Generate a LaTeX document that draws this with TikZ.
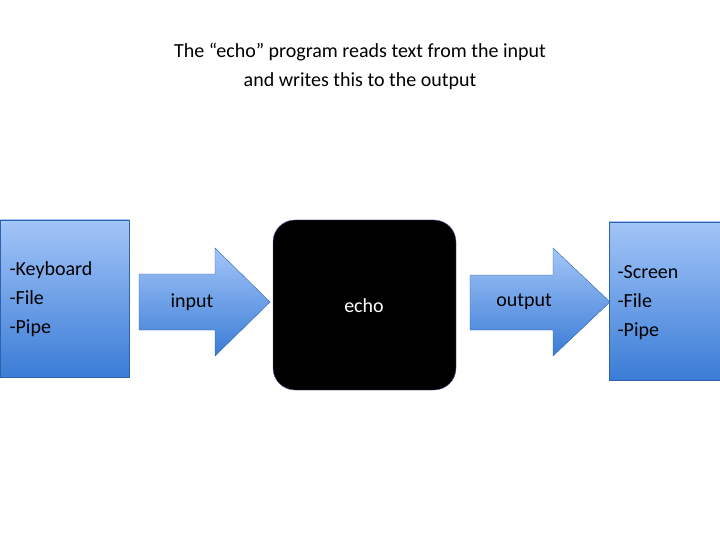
\documentclass[tikz,border=0pt]{standalone}
\usepackage{fontspec}
\setmainfont{Carlito}
\begin{document}
\begin{tikzpicture}[x=1pt,y=-1pt,
  blu/.style={top color=blue!10!cyan!30!blue!40!white, bottom color=blue!70!cyan!60!black!90,draw=blue!50!gray},
  txt/.style={font=\fontsize{20}{29}\selectfont}]
\colorlet{lb}{white}
\definecolor{btop}{HTML}{A3C5F8}
\definecolor{bbot}{HTML}{3A7CD6}
\tikzset{blu/.style={top color=btop,bottom color=bbot,draw=bbot!80!black}}
\useasboundingbox (0,0) rectangle (720,540);
\node[txt,align=center] (title) at (360,66) {The “echo” program reads text from the input\\and writes this to the output};
\draw[blu] (0,220) rectangle (129,377);
\node[txt,align=left,anchor=west] (src) at (6,299) {-Keyboard\\-File\\-Pipe};
\draw[blu] (139,274) -- (215,274) -- (215,248) -- (270,302) -- (215,356) -- (215,330) -- (139,330) -- cycle;
\node[txt] (in) at (192,302) {input};
\draw[fill=black,draw=gray!70!blue,rounded corners=22] (273,220) rectangle (456,390);
\node[txt,text=white] (echo) at (364,306) {echo};
\draw[blu] (470,275) -- (553,275) -- (553,248) -- (610,302) -- (553,356) -- (553,330) -- (470,330) -- cycle;
\node[txt] (out) at (524,302) {output};
\draw[blu] (609,222) rectangle (721,380);
\node[txt,align=left,anchor=west] (dst) at (614,303) {-Screen\\-File\\-Pipe};
\end{tikzpicture}
\end{document}
